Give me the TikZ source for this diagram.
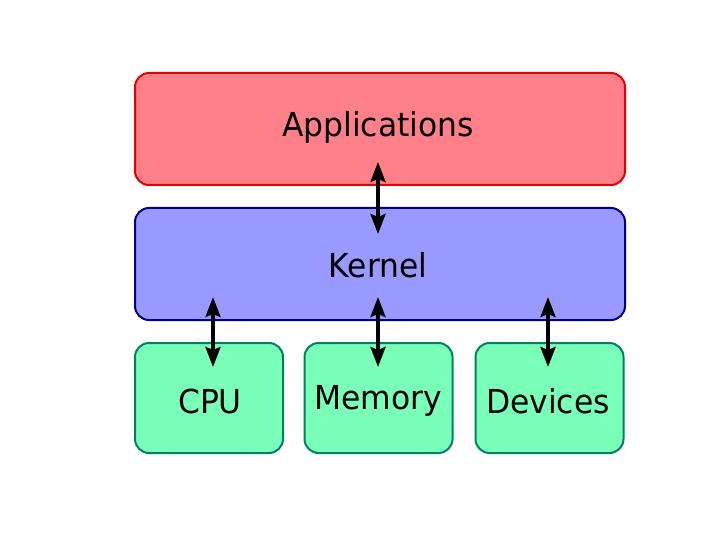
\documentclass[tikz,border=0pt]{standalone}
\usepackage{fontspec}
\setmainfont{DejaVu Sans}
\newfontfamily\labelfont[FakeStretch=0.95]{DejaVu Sans}
\usetikzlibrary{arrows.meta}
\definecolor{appfill}{RGB}{255,128,136}
\definecolor{appline}{RGB}{230,0,0}
\definecolor{kerfill}{RGB}{153,153,255}
\definecolor{kerline}{RGB}{0,0,128}
\definecolor{hwfill}{RGB}{122,255,185}
\definecolor{hwline}{RGB}{0,128,100}
\tikzset{
  layerbox/.style={rounded corners=14pt, line width=2pt, inner sep=0pt},
  applayer/.style={layerbox, draw=appline, fill=appfill, minimum width=490pt, minimum height=112pt},
  kerlayer/.style={layerbox, draw=kerline, fill=kerfill, minimum width=490pt, minimum height=112pt},
  hwlayer/.style={layerbox, draw=hwline, fill=hwfill, minimum width=148pt, minimum height=110pt},
  lbl/.style={font=\labelfont\fontsize{33}{38}\selectfont, inner sep=0pt},
  link/.style={line width=3.4pt, {Stealth[length=20pt,width=15pt,inset=3pt]}-{Stealth[length=20pt,width=15pt,inset=3pt]}}
}
\begin{document}
\begin{tikzpicture}[x=1pt,y=-1pt]
\useasboundingbox (0,0) rectangle (720,540);
\node[applayer] (app) at (380,129) {};
\node[kerlayer] (ker) at (380,264) {};
\node[hwlayer] (cpu) at (209,398) {};
\node[hwlayer] (mem) at (378.5,398) {};
\node[hwlayer] (dev) at (549.5,398) {};
\node[lbl] (apptxt) at (378,127) {Applications};
\node[lbl] (kertxt) at (378,265) {Kernel};
\node[lbl] (cputxt) at (210,401) {CPU};
\node[lbl] (memtxt) at (378,401) {Memory};
\node[lbl] (devtxt) at (548,401) {Devices};
\coordinate (a1) at (378,162);
\coordinate (k1) at (378,234);
\coordinate (kc) at (213,297);
\coordinate (c1) at (213,367);
\coordinate (km) at (378,297);
\coordinate (m1) at (378,367);
\coordinate (kd) at (548,297);
\coordinate (d1) at (548,367);
\draw[link] (a1) -- (k1);
\draw[link] (kc) -- (c1);
\draw[link] (km) -- (m1);
\draw[link] (kd) -- (d1);
\end{tikzpicture}
\end{document}
